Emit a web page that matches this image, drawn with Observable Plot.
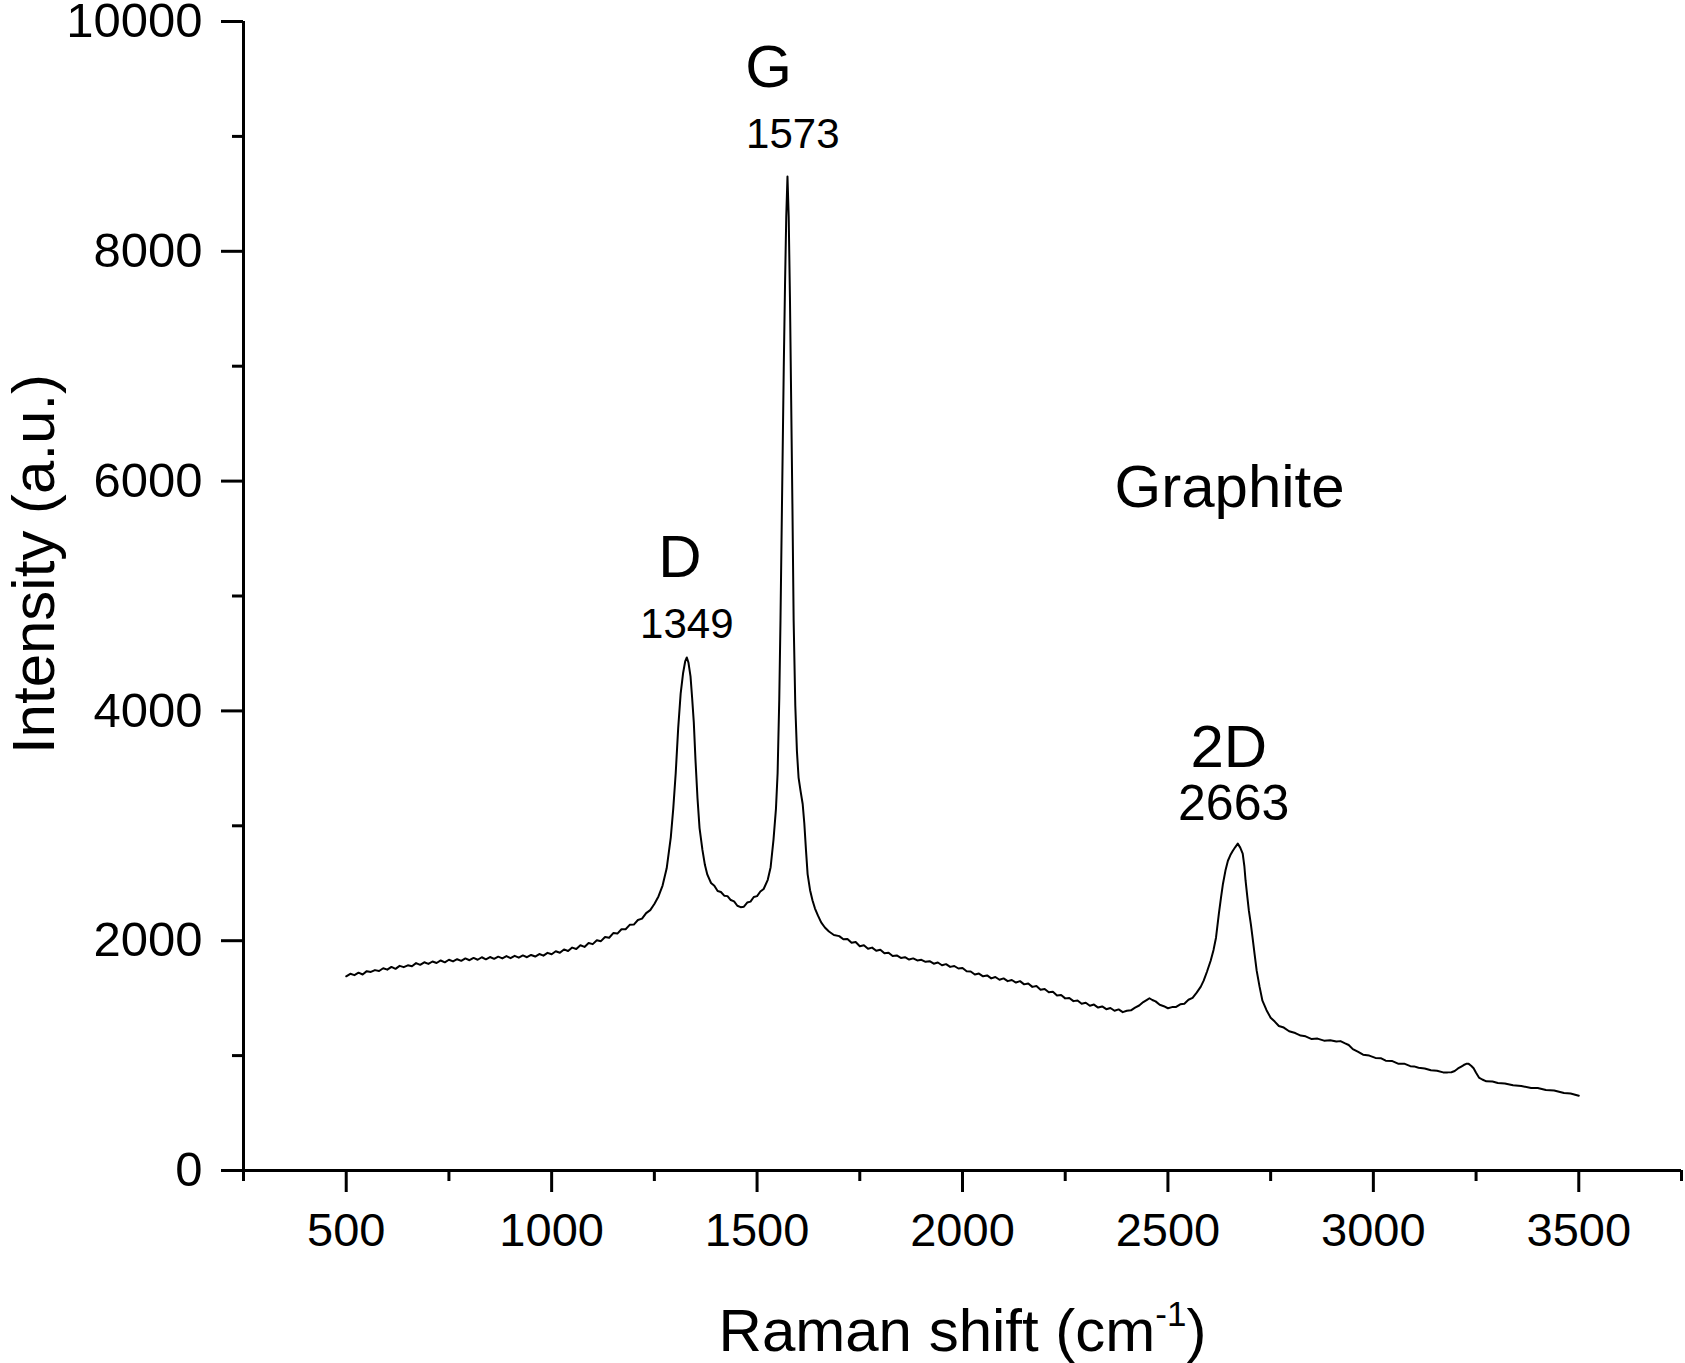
<!DOCTYPE html>
<html><head><meta charset="utf-8">
<script src="https://cdn.jsdelivr.net/npm/d3@7"></script>
<script src="https://cdn.jsdelivr.net/npm/@observablehq/plot@0.6"></script>
<style>html,body{margin:0;padding:0;background:#fff;}#chart{width:1685px;height:1363px;}</style>
</head><body><div id="chart"></div>
<script>
const ramanShift = [
500,510,520,530,540,550,560,570,580,590,600,610,620,630,640,650,660,670,680,690,
700,710,720,730,740,750,760,770,780,790,800,810,820,830,840,850,860,870,880,890,
900,910,920,930,940,950,960,970,980,990,1000,1010,1020,1030,1040,1050,1060,1070,1080,1090,
1100,1110,1120,1130,1140,1150,1160,1170,1180,1190,1200,1210,1220,1230,1240,1250,1260,1270,1280,1290,
1296,1302,1308,1314,1320,1325,1329,1333,1338,1342,1346,1350,1355,1360,1367,1373,1379,1388,1396,1404,
1412,1420,1428,1436,1444,1452,1460,1468,1476,1484,1492,1500,1508,1516,1526,1533,1540,1546,1550,1554,
1557,1561,1565,1568,1571,1574,1577,1580,1583,1586,1589,1593,1597,1601,1606,1611,1615,1619,1623,1629,
1635,1641,1648,1656,1665,1675,1687,1700,1710,1720,1730,1740,1750,1760,1770,1780,1790,1800,1810,1820,
1830,1840,1850,1860,1870,1880,1890,1900,1910,1920,1930,1940,1950,1960,1970,1980,1990,2000,2010,2020,
2030,2040,2050,2060,2070,2080,2090,2100,2110,2120,2130,2140,2150,2160,2170,2180,2190,2200,2210,2220,
2230,2240,2250,2260,2270,2280,2290,2300,2310,2320,2330,2340,2350,2360,2370,2380,2390,2400,2410,2420,
2430,2440,2450,2455,2462,2470,2480,2490,2500,2510,2520,2530,2540,2550,2560,2570,2580,2587,2595,2604,
2611,2617,2624,2629,2634,2640,2646,2652,2658,2664,2670,2676,2682,2686,2689,2693,2697,2702,2706,2711,
2716,2723,2730,2740,2750,2760,2770,2782,2795,2810,2823,2835,2850,2864,2880,2895,2910,2920,2930,2940,
2950,2962,2975,2990,3005,3018,3030,3045,3060,3075,3090,3099,3110,3125,3140,3155,3170,3181,3190,3198,
3206,3214,3220,3226,3232,3238,3244,3250,3257,3265,3275,3290,3303,3320,3340,3360,3384,3400,3420,3440,
3464,3480,3500
];
const intensity = [
1690,1712,1700,1722,1706,1735,1728,1744,1736,1760,1748,1772,1755,1781,1770,1786,1778,1805,1790,1812,
1798,1819,1806,1828,1812,1834,1820,1839,1825,1846,1830,1850,1834,1856,1838,1858,1842,1861,1846,1866,
1848,1868,1852,1872,1856,1876,1862,1884,1870,1894,1882,1908,1895,1924,1910,1940,1928,1960,1946,1980,
1970,2004,1996,2032,2026,2066,2062,2100,2100,2138,2140,2180,2192,2240,2266,2320,2385,2480,2630,2900,
3150,3460,3850,4150,4330,4430,4465,4420,4300,4110,3900,3580,3240,2980,2790,2660,2575,2502,2478,2432,
2424,2392,2388,2354,2342,2304,2292,2296,2332,2340,2380,2388,2428,2450,2530,2640,2880,3150,3460,4100,
4790,5900,7000,7700,8300,8650,8300,7600,6700,5800,4790,4050,3650,3420,3300,3190,3020,2790,2580,2440,
2350,2280,2220,2160,2115,2080,2050,2040,2012,2014,1982,1988,1952,1960,1930,1940,1912,1922,1890,1896,
1866,1872,1850,1856,1836,1846,1828,1834,1816,1822,1800,1810,1786,1796,1772,1780,1758,1762,1734,1732,
1706,1714,1690,1698,1672,1684,1660,1672,1648,1658,1636,1648,1620,1628,1598,1606,1574,1580,1552,1556,
1524,1528,1498,1502,1474,1480,1452,1460,1434,1444,1418,1428,1404,1414,1390,1402,1378,1390,1394,1418,
1436,1466,1488,1499,1484,1472,1442,1430,1412,1422,1424,1446,1452,1486,1502,1548,1600,1652,1730,1826,
1920,2026,2235,2370,2496,2610,2696,2745,2783,2815,2845,2810,2757,2650,2522,2390,2261,2140,2026,1880,
1739,1600,1478,1395,1330,1296,1258,1244,1212,1196,1174,1168,1144,1148,1130,1134,1122,1126,1108,1092,
1056,1034,1008,1000,980,978,956,954,930,930,908,906,894,888,872,868,854,854,855,866,
888,905,918,928,928,912,890,850,809,792,776,774,762,758,742,736,718,718,700,696,
674,670,650
];
const xMajorTicks = [500,1000,1500,2000,2500,3000,3500];
const xMinorTicks = [250,750,1250,1750,2250,2750,3250,3750];
const yMajorTicks = [0,2000,4000,6000,8000,10000];
const yMinorTicks = [1000,3000,5000,7000,9000];
const peakLabels = ["G","1573","D","1349","2D","2663","Graphite"];
const peakLabelX = [1528,1587,1312,1329,2648,2660,2650];
const peakLabelY = [9430,8899,5163,4632,3509,3047,5773];
const xTitle = "Raman shift (cm-1)";
const yTitle = "Intensity (a.u.)";

const font = "'Liberation Sans', Arial, Helvetica, sans-serif";
const spectrum = ramanShift.map((x, i) => ({x, y: intensity[i]}));
const annotations = peakLabels.map((t, i) => ({text: t, x: peakLabelX[i], y: peakLabelY[i]}));
const labelSize = {"G": 60, "D": 60, "2D": 60, "Graphite": 60, "1573": 42, "1349": 42, "2663": 50};

const plot = Plot.plot({
  width: 1685, height: 1363,
  marginLeft: 243, marginRight: 4, marginTop: 21, marginBottom: 193,
  style: {fontFamily: font, background: "#fff", color: "#000"},
  x: {domain: [250, 3750]},
  y: {domain: [0, 10000]},
  marks: [
    Plot.axisX({ticks: xMinorTicks, tickSize: 11, strokeWidth: 3, tickFormat: () => "", label: null}),
    Plot.axisX({ticks: xMajorTicks, tickSize: 22, tickPadding: 20, strokeWidth: 3, fontSize: 47, tickFormat: d3.format("d"), label: null}),
    Plot.axisY({ticks: yMinorTicks, tickSize: 11, strokeWidth: 3, tickFormat: () => "", label: null}),
    Plot.axisY({ticks: yMajorTicks, tickSize: 22, tickPadding: 19, strokeWidth: 3, fontSize: 49, tickFormat: d3.format("d"), label: null}),
    Plot.ruleY([0], {stroke: "#000", strokeWidth: 3}),
    Plot.ruleX([250], {stroke: "#000", strokeWidth: 3}),
    Plot.line(spectrum, {x: "x", y: "y", stroke: "#000", strokeWidth: 2}),
    Plot.text(annotations, {x: "x", y: "y", text: "text", fontSize: d => labelSize[d.text], lineAnchor: "bottom", textAnchor: "middle", fill: "#000"}),
    Plot.text([yTitle], {text: d => d, frameAnchor: "left", rotate: -90, dx: -190, dy: -32, fontSize: 60, lineAnchor: "bottom", textAnchor: "middle", fill: "#000"}),
    Plot.text([xTitle], {text: d => d, frameAnchor: "bottom", dy: 180, fontSize: 60, lineAnchor: "bottom", textAnchor: "middle", fill: "#000"})
  ]
});
document.getElementById("chart").appendChild(plot);

d3.select(plot).selectAll("text").filter(function() { return this.textContent === xTitle; }).each(function() {
  const t = d3.select(this);
  t.text(null);
  t.append("tspan").text("Raman shift (cm");
  t.append("tspan").attr("font-size", 35).attr("dy", -25).text("-1");
  t.append("tspan").attr("dy", 25).text(")");
});
</script>
</body></html>
